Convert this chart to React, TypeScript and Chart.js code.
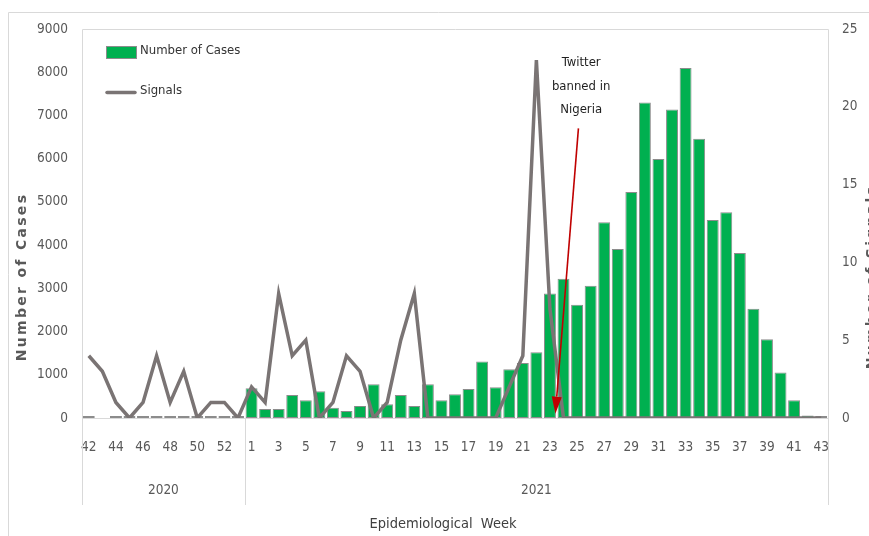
import React, { useEffect, useRef } from 'react';
import { Chart, registerables } from 'chart.js';

Chart.register(...registerables);

// ---- Data ----
const weeks2020 = ['42', '43', '44', '45', '46', '47', '48', '49', '50', '51', '52', '53'];
const weeks2021 = [
  '1', '2', '3', '4', '5', '6', '7', '8', '9', '10', '11', '12', '13', '14', '15', '16', '17', '18', '19', '20', '21',
  '22', '23', '24', '25', '26', '27', '28', '29', '30', '31', '32', '33', '34', '35', '36', '37', '38', '39', '40', '41',
  '42', '43',
];
const yearLabels = ['2020', '2021'];

const cases2020 = [0, null, 0, 0, 0, 0, 0, 0, 0, 0, 0, 0];
const cases2021 = [
  690, 210, 210, 530, 410, 620, 240, 160, 280, 780, 320, 530, 280, 780, 410, 550, 670, 1310, 710, 1130, 1270,
  1520, 2880, 3220, 2620, 3060, 4530, 3910, 5230, 7300, 5990, 7140, 8100, 6460, 4580, 4760, 3820, 2530, 1820, 1050, 410,
  60, 10,
];

const signals2020 = [4, 3, 1, 0, 1, 4, 1, 3, 0, 1, 1, 0];
const signals2021 = [
  2, 1, 8, 4, 5, 0, 1, 4, 3, 0, 1, 5, 8, 0, 0, 0, 0, 0, 0, 2, 4,
  23, 7, 0, 0, 0, 0, 0, 0, 0, 0, 0, 0, 0, 0, 0, 0, 0, 0, 0, 0,
  0, 0,
];

const casesMax = 9000;
const casesStep = 1000;
const signalsMax = 25;
const signalsStep = 5;

const annotationLines = ['Twitter', 'banned in', 'Nigeria'];

const labels = [...weeks2020, ...weeks2021];
const casesData = [...cases2020, ...cases2021];
const signalsData = [...signals2020, ...signals2021];

const NARROW = "'Liberation Sans Narrow', 'DejaVu Sans Condensed', 'Liberation Sans', sans-serif";
const FRAME = '#d9d9d9';
const TEXT = '#595959';

const decorPlugin = {
  id: 'decor',
  beforeDatasetsDraw(chart: any) {
    const ctx = chart.ctx;
    const x = chart.scales.x;
    const area = chart.chartArea;
    const sep = x.getPixelForValue(weeks2020.length - 0.5);
    const bottomLine = 505;
    ctx.save();
    ctx.strokeStyle = FRAME;
    ctx.lineWidth = 1;
    ctx.beginPath();
    // outer border
    ctx.moveTo(8.5, chart.height);
    ctx.lineTo(8.5, 12.5);
    ctx.lineTo(chart.width, 12.5);
    // plot frame
    ctx.moveTo(area.left + 0.5, bottomLine);
    ctx.lineTo(area.left + 0.5, area.top + 0.5);
    ctx.lineTo(area.right + 0.5, area.top + 0.5);
    ctx.lineTo(area.right + 0.5, bottomLine);
    // baseline
    ctx.moveTo(area.left, area.bottom + 0.5);
    ctx.lineTo(area.right, area.bottom + 0.5);
    // year separator
    ctx.moveTo(Math.round(sep) + 0.5, area.bottom);
    ctx.lineTo(Math.round(sep) + 0.5, bottomLine);
    ctx.stroke();
    ctx.restore();
  },
  afterDraw(chart: any) {
    const ctx = chart.ctx;
    const x = chart.scales.x;
    const y = chart.scales.y;
    const area = chart.chartArea;
    ctx.save();

    // year labels
    const sep = x.getPixelForValue(weeks2020.length - 0.5);
    ctx.fillStyle = TEXT;
    ctx.font = `13.5px ${NARROW}`;
    ctx.textAlign = 'center';
    ctx.textBaseline = 'middle';
    ctx.fillText(yearLabels[0], (area.left + sep) / 2, 490);
    ctx.fillText(yearLabels[1], (sep + area.right) / 2, 490);

    // x title
    ctx.font = `14.5px ${NARROW}`;
    ctx.fillStyle = '#404040';
    ctx.fillText('Epidemiological  Week', 443, 524);

    // y titles
    ctx.font = `bold 14px 'DejaVu Sans', sans-serif`;
    ctx.fillStyle = TEXT;
    try { (ctx as any).letterSpacing = '2.3px'; } catch (e) {}
    ctx.save();
    ctx.translate(22, 277);
    ctx.rotate(-Math.PI / 2);
    ctx.fillText('Number of Cases', 0, 0);
    ctx.restore();
    ctx.save();
    ctx.translate(872, 277);
    ctx.rotate(-Math.PI / 2);
    ctx.fillText('Number of Signals', 0, 0);
    ctx.restore();
    try { (ctx as any).letterSpacing = '0px'; } catch (e) {}

    // legend
    const lx = area.left + 24;
    ctx.fillStyle = '#00b050';
    ctx.fillRect(lx, 46, 30, 12);
    ctx.strokeStyle = '#8c8c8c';
    ctx.lineWidth = 1;
    ctx.strokeRect(lx + 0.5, 46.5, 30, 12);
    ctx.strokeStyle = '#7a7474';
    ctx.lineWidth = 3.5;
    ctx.lineCap = 'round';
    ctx.beginPath();
    ctx.moveTo(lx + 1, 92.5);
    ctx.lineTo(lx + 29, 92.5);
    ctx.stroke();
    ctx.fillStyle = '#333333';
    ctx.font = `13px ${NARROW}`;
    ctx.textAlign = 'left';
    ctx.textBaseline = 'middle';
    ctx.fillText('Number of Cases', lx + 34, 51);
    ctx.fillText('Signals', lx + 34, 91);

    // annotation
    const tx = x.getPixelForValue(36.3);
    ctx.fillStyle = '#1f1f1f';
    ctx.textAlign = 'center';
    ctx.fillText(annotationLines[0], tx, 63);
    ctx.fillText(annotationLines[1], tx, 87);
    ctx.fillText(annotationLines[2], tx, 110);

    const sx = x.getPixelForValue(36.1);
    const sy = y.getPixelForValue(6700);
    const ex = x.getPixelForValue(34.4);
    const ey = y.getPixelForValue(100);
    const ang = Math.atan2(ey - sy, ex - sx);
    const head = 17;
    const hw = 5;
    const bx = ex - head * Math.cos(ang);
    const by = ey - head * Math.sin(ang);
    ctx.strokeStyle = '#c00000';
    ctx.fillStyle = '#c00000';
    ctx.lineWidth = 1.6;
    ctx.lineCap = 'butt';
    ctx.beginPath();
    ctx.moveTo(sx, sy);
    ctx.lineTo(bx, by);
    ctx.stroke();
    ctx.beginPath();
    ctx.moveTo(ex, ey);
    ctx.lineTo(bx + hw * Math.sin(ang), by - hw * Math.cos(ang));
    ctx.lineTo(bx - hw * Math.sin(ang), by + hw * Math.cos(ang));
    ctx.closePath();
    ctx.fill();

    ctx.restore();
  },
};

export default function App() {
  const canvasRef = useRef<HTMLCanvasElement | null>(null);

  useEffect(() => {
    if (!canvasRef.current) return;
    const chart = new Chart(canvasRef.current, {
      type: 'bar',
      data: {
        labels,
        datasets: [
          {
            type: 'line',
            label: 'Signals',
            data: signalsData,
            yAxisID: 'y1',
            borderColor: '#7a7474',
            borderWidth: 3.5,
            pointRadius: 0,
            tension: 0,
            order: 0,
            borderJoinStyle: 'miter',
          } as any,
          {
            type: 'bar',
            label: 'Number of Cases',
            data: casesData,
            yAxisID: 'y',
            backgroundColor: '#00b050',
            borderColor: '#8c8c8c',
            borderWidth: 1,
            borderSkipped: false,
            minBarLength: 2,
            barPercentage: 0.88,
            categoryPercentage: 1,
            order: 1,
          } as any,
        ],
      },
      options: {
        animation: false,
        responsive: true,
        maintainAspectRatio: false,
        layout: { padding: { top: 29, left: 0, right: 0, bottom: 0 } },
        plugins: {
          legend: { display: false },
          tooltip: { enabled: false },
        },
        scales: {
          x: {
            grid: { display: false },
            border: { display: false },
            ticks: {
              autoSkip: false,
              maxRotation: 0,
              minRotation: 0,
              padding: 13,
              color: TEXT,
              font: { family: NARROW, size: 13.5 },
              callback: (_v: any, i: number) => (i % 2 === 0 ? labels[i] : ''),
            },
            afterFit: (s: any) => { s.height = 118; },
          },
          y: {
            position: 'left',
            min: 0,
            max: casesMax,
            grid: { display: false },
            border: { display: false },
            ticks: {
              stepSize: casesStep,
              padding: 6,
              color: TEXT,
              font: { family: NARROW, size: 13.5 },
              callback: (v: any) => String(v),
            },
            afterFit: (s: any) => { s.width = 82; },
          },
          y1: {
            position: 'right',
            min: 0,
            max: signalsMax,
            grid: { display: false },
            border: { display: false },
            ticks: {
              stepSize: signalsStep,
              padding: 6,
              color: TEXT,
              font: { family: NARROW, size: 13.5 },
              callback: (v: any) => String(v),
            },
            afterFit: (s: any) => { s.width = 41; },
          },
        },
      },
      plugins: [decorPlugin],
    });
    return () => chart.destroy();
  }, []);

  return (
    <div style={{ position: 'fixed', left: 0, top: 0, width: 869, height: 536, background: '#ffffff' }}>
      <canvas ref={canvasRef} />
    </div>
  );
}
